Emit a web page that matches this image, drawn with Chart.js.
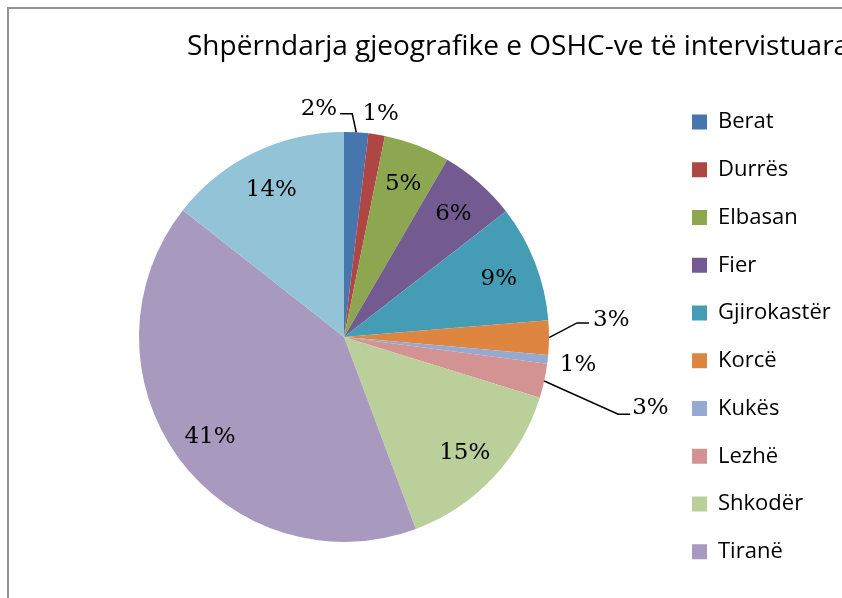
<!DOCTYPE html>
<html>
<head>
<meta charset="utf-8">
<script src="https://cdn.jsdelivr.net/npm/chart.js@4"></script>
<style>
  html, body { margin: 0; padding: 0; background: #fff; overflow: hidden; }
  #wrap { position: absolute; left: 0; top: 0; width: 842px; height: 598px; }
  #frame { position: absolute; left: 7px; top: 7px; width: 900px; height: 700px;
           border-left: 2px solid #939393; border-top: 2px solid #939393; pointer-events: none; }
</style>
</head>
<body>
<div id="wrap">
  <canvas id="c" width="842" height="598"></canvas>
  <div id="frame"></div>
</div>
<script>
// ---- data ----
const chartTitle = 'Shpërndarja gjeografike e OSHC-ve të intervistuara';
const categories = ['Berat', 'Durrës', 'Elbasan', 'Fier', 'Gjirokastër', 'Korcë', 'Kukës', 'Lezhë', 'Shkodër', 'Tiranë', 'Vlorë'];
const shares = [1.9, 1.3, 5.2, 6.1, 9.2, 2.7, 0.7, 2.7, 14.5, 41.3, 14.4];
const percentLabels = ['2%', '1%', '5%', '6%', '9%', '3%', '1%', '3%', '15%', '41%', '14%'];
const sliceColors = ['#4775ad', '#ae4644', '#8ca74f', '#735b91', '#449db4', '#de853f', '#94aad2', '#d39392', '#bacf99', '#a899be', '#93c3d6'];
const legendShown = 10; // the reference legend is truncated after "Tiranë"

// ---- label layout (relative to the slice's outer edge point) ----
const outsidePlacement = {
  0: { line: [[-4, -18.4], [-16, -18.4]], tx: -19, ty: -23, align: 'right' },
  1: { tx: 4, ty: -20, align: 'center' },
  5: { line: [[28, -14.6], [40, -14.6]], tx: 44, ty: -17.5, align: 'left' },
  6: { tx: 12, ty: 6, align: 'left' },
  7: { line: [[74, 33.3], [86, 33.3]], tx: 88, ty: 27, align: 'left' }
};

const pieLabels = {
  id: 'pieLabels',
  afterDatasetsDraw(chart) {
    const ctx = chart.ctx;
    const meta = chart.getDatasetMeta(0);
    ctx.save();
    ctx.font = '23px "DejaVu Serif"';
    ctx.fillStyle = '#000';
    ctx.textBaseline = 'middle';
    meta.data.forEach((arc, i) => {
      const p = arc.getProps(['x', 'y', 'startAngle', 'endAngle', 'outerRadius'], true);
      const mid = (p.startAngle + p.endAngle) / 2;
      const cs = Math.cos(mid), sn = Math.sin(mid);
      const text = percentLabels[i];
      const place = outsidePlacement[i];
      if (!place) {
        const rr = p.outerRadius * 0.81;
        ctx.textAlign = 'center';
        ctx.fillText(text, p.x + cs * rr, p.y + sn * rr + 2);
      } else {
        const ex = p.x + cs * p.outerRadius, ey = p.y + sn * p.outerRadius;
        if (place.line) {
          ctx.beginPath();
          ctx.moveTo(ex, ey);
          place.line.forEach(([dx, dy]) => ctx.lineTo(ex + dx, ey + dy));
          ctx.strokeStyle = '#000';
          ctx.lineWidth = 1.5;
          ctx.stroke();
        }
        ctx.textAlign = place.align;
        ctx.fillText(text, ex + place.tx, ey + place.ty);
      }
    });
    ctx.restore();
  }
};

const titleDraw = {
  id: 'titleDraw',
  afterDraw(chart) {
    const ctx = chart.ctx;
    ctx.save();
    ctx.font = '28px "Open Sans"';
    ctx.fillStyle = '#000';
    ctx.textAlign = 'left';
    ctx.textBaseline = 'alphabetic';
    ctx.fillText(chartTitle, 187, 55);
    ctx.restore();
  }
};

const legendPad = 25.76;
const legendBoxX = 692;

const chart = new Chart(document.getElementById('c'), {
  type: 'pie',
  data: {
    labels: categories,
    datasets: [{
      data: shares,
      backgroundColor: sliceColors,
      borderWidth: 0,
      radius: 205
    }]
  },
  options: {
    responsive: false,
    animation: false,
    devicePixelRatio: 1,
    layout: { padding: { left: 688 - (legendBoxX - legendPad), right: 10, top: 75.8, bottom: 0 } },
    plugins: {
      title: { display: false },
      tooltip: { enabled: false },
      legend: {
        position: 'right',
        align: 'center',
        labels: {
          font: { family: '"Open Sans"', size: 22 },
          color: '#000',
          boxWidth: 15,
          boxHeight: 15,
          padding: legendPad,
          filter: (item) => item.index < legendShown
        }
      }
    }
  },
  plugins: [pieLabels, titleDraw]
});

const diff = chart.legend.left - (legendBoxX - legendPad);
if (Math.abs(diff) > 0.3) {
  chart.options.layout.padding.right += diff;
  chart.update('none');
}
</script>
</body>
</html>
